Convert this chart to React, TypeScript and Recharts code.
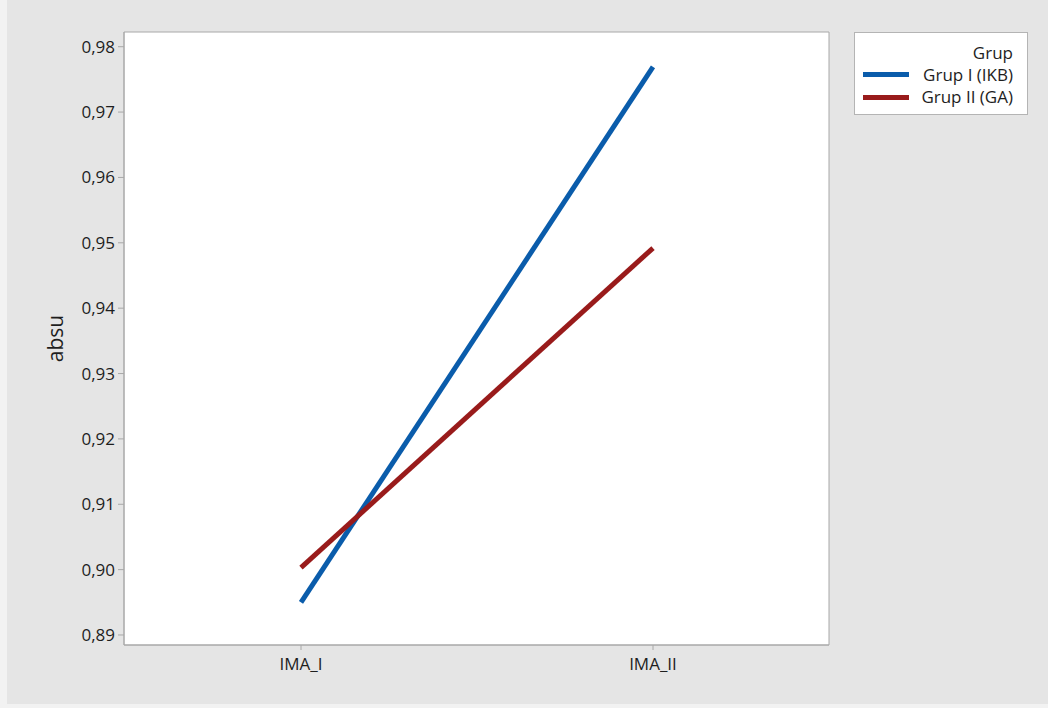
import React from 'react';
import { LineChart, Line, XAxis, YAxis, CartesianGrid, Legend } from 'recharts';

const categories = ['IMA_I', 'IMA_II'];
const grupI = [0.895, 0.9769];
const grupII = [0.9003, 0.9492];
const yTicks = [0.89, 0.9, 0.91, 0.92, 0.93, 0.94, 0.95, 0.96, 0.97, 0.98];
const seriesNames = ['Grup I (IKB)', 'Grup II (GA)'];
const seriesColors = ['#0a5cab', '#991b1b'];
const legendTitle = 'Grup';
const yLabel = 'absu';

const data = categories.map((c, i) => ({ cat: c, g1: grupI[i], g2: grupII[i] }));

const FONT = '"Open Sans", "Noto Sans", sans-serif';
const TEXT = '#1e1e1e';
const AXIS = '#a8a8a8';

const LegendBox = () => (
  <div
    style={{
      position: 'relative',
      width: 174,
      height: 83,
      boxSizing: 'border-box',
      background: '#ffffff',
      border: '1px solid #b4b4b4',
      fontFamily: FONT,
      fontSize: 17,
      color: TEXT,
    }}
  >
    <div style={{ position: 'absolute', right: 14, top: 9, lineHeight: '22px' }}>{legendTitle}</div>
    {seriesNames.map((n, i) => (
      <div key={n}>
        <div
          style={{
            position: 'absolute',
            left: 8,
            top: 39 + i * 23,
            width: 46,
            height: 5,
            background: seriesColors[i],
          }}
        />
        <div style={{ position: 'absolute', right: 14, top: 31 + i * 22, lineHeight: '22px' }}>{n}</div>
      </div>
    ))}
  </div>
);

export default function App() {
  return (
    <div style={{ position: 'absolute', left: 0, top: 0, width: 1048, height: 708, background: '#f2f2f2' }}>
      <div style={{ position: 'absolute', left: 7, top: 0, width: 1041, height: 704, background: '#e5e5e5' }} />
      <div style={{ position: 'absolute', left: 0, top: 0 }}>
        <LineChart
          width={1048}
          height={708}
          data={data}
          margin={{ top: 32, right: 219, bottom: 33, left: 44 }}
        >
          <CartesianGrid
            fill="#ffffff"
            stroke={AXIS}
            horizontalPoints={[32, 645]}
            verticalPoints={[124, 829]}
          />
          <XAxis
            dataKey="cat"
            height={30}
            padding={{ left: 177, right: 176 }}
            stroke={AXIS}
            tickSize={5}
            tickMargin={8}
            tick={{ fill: TEXT, fontSize: 17, fontFamily: FONT }}
            interval={0}
          />
          <YAxis
            width={80}
            domain={[0.88847, 0.98225]}
            ticks={yTicks}
            allowDataOverflow
            stroke={AXIS}
            tickSize={6}
            tickMargin={3}
            tick={{ fill: TEXT, fontSize: 17, fontFamily: FONT }}
            tickFormatter={(v: number) => v.toFixed(2).replace('.', ',')}
            label={{
              value: yLabel,
              angle: -90,
              position: 'insideLeft',
              offset: 12,
              style: { textAnchor: 'middle', fill: TEXT, fontSize: 21, fontFamily: FONT },
            }}
          />
          <Legend
            layout="horizontal"
            verticalAlign="middle"
            align="center"
            wrapperStyle={{ position: 'absolute', left: 854, top: 32, width: 174, height: 83 }}
            content={() => <LegendBox />}
          />
          <Line
            type="linear"
            dataKey="g1"
            name={seriesNames[0]}
            stroke={seriesColors[0]}
            strokeWidth={5}
            dot={false}
            activeDot={false}
            isAnimationActive={false}
          />
          <Line
            type="linear"
            dataKey="g2"
            name={seriesNames[1]}
            stroke={seriesColors[1]}
            strokeWidth={5}
            dot={false}
            activeDot={false}
            isAnimationActive={false}
          />
        </LineChart>
      </div>
    </div>
  );
}
